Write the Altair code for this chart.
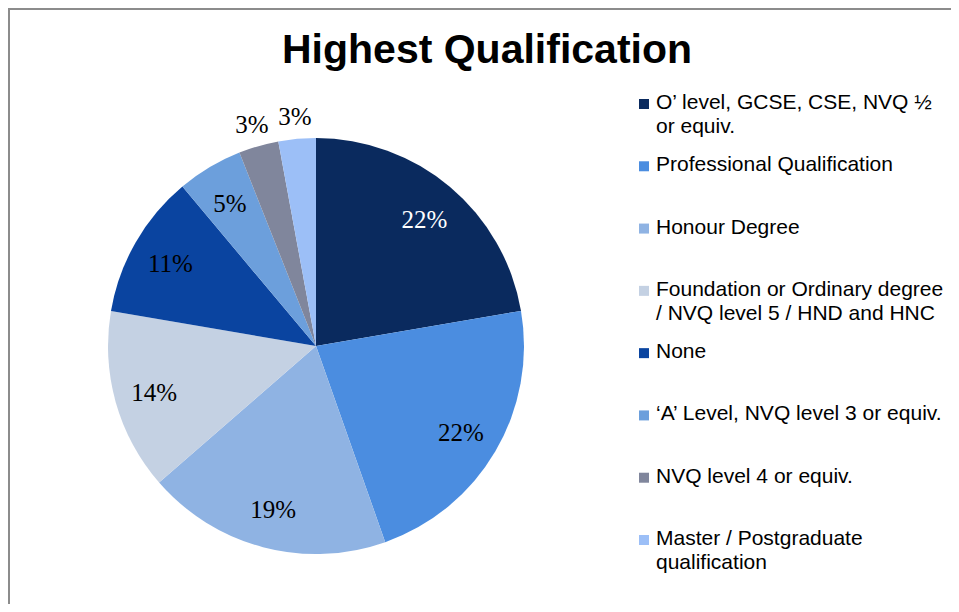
import altair as alt
import pandas as pd

categories = [
    "O' level, GCSE,  CSE,  NVQ ½ or equiv.",
    "Professional Qualification",
    "Honour Degree",
    "Foundation or Ordinary degree / NVQ level 5 / HND and HNC",
    "None",
    "‘A’ Level, NVQ level 3 or equiv.",
    "NVQ level 4 or equiv.",
    "Master / Postgraduate qualification",
]
legend_labels = [
    "O’ level, GCSE,  CSE,  NVQ ½\nor equiv.",
    "Professional Qualification",
    "Honour Degree",
    "Foundation or Ordinary degree\n/ NVQ level 5 / HND and HNC",
    "None",
    "‘A’ Level, NVQ level 3 or equiv.",
    "NVQ level 4 or equiv.",
    "Master / Postgraduate\nqualification",
]
values = [22.3, 22.3, 19.0, 14.1, 11.2, 5.1, 3.1, 2.9]
pct_labels = ["22%", "22%", "19%", "14%", "11%", "5%", "3%", "3%"]
colors = ["#0a2a5e", "#4b8de0", "#8fb3e3", "#c4d1e3", "#0a44a0", "#6c9fdc", "#80869c", "#9cbff7"]

df = pd.DataFrame({
    "idx": list(range(len(categories))),
    "cat": categories,
    "legend": legend_labels,
    "value": values,
    "pct": pct_labels,
})

W, H = 943, 596
CX, CY, R = 308, 338, 208

color_scale = alt.Scale(domain=categories, range=colors)

base = alt.Chart(df)

pie = base.mark_arc(outerRadius=R).encode(
    theta=alt.Theta("value:Q", stack=True),
    color=alt.Color("cat:N", scale=color_scale, legend=None),
    order=alt.Order("idx:Q"),
    x=alt.value(CX),
    y=alt.value(CY),
)


def pct_layer(expr, rad):
    return base.transform_calculate(
        lab=expr
    ).mark_text(font="Liberation Serif", fontSize=25, align="center", baseline="middle", dy=2).encode(
        theta=alt.Theta("value:Q", stack=True),
        radius=alt.value(rad),
        order=alt.Order("idx:Q"),
        text=alt.Text("lab:N"),
        color=alt.condition("datum.idx == 0", alt.value("white"), alt.value("black")),
        x=alt.value(CX),
        y=alt.value(CY),
    )


labels_in = pct_layer("datum.idx < 6 ? datum.pct : ''", 168)
labels_out = pct_layer("datum.idx >= 6 ? datum.pct : ''", 232)

leg_y = alt.Y("cat:N", sort=categories, scale=alt.Scale(type="point", range=[96, 532], padding=0), axis=None)

leg_sym = base.mark_square(size=100, opacity=1).encode(
    x=alt.value(636),
    y=leg_y,
    color=alt.Color("cat:N", scale=color_scale, legend=None),
)

leg_txt = base.mark_text(
    font="Liberation Sans", fontSize=21, align="left", baseline="top", dy=-12, lineBreak="\n", lineHeight=24,
    color="black",
).encode(
    x=alt.value(648),
    y=leg_y,
    text=alt.Text("legend:N"),
)

title = alt.Chart(pd.DataFrame({"t": ["Highest Qualification"]})).mark_text(
    font="Liberation Sans", fontSize=41, fontWeight="bold", align="center", baseline="middle", color="black"
).encode(
    x=alt.value(479),
    y=alt.value(43),
    text="t:N",
)

border_left = alt.Chart(pd.DataFrame({"a": [0]})).mark_rule(color="#8c8c8c", strokeWidth=2).encode(
    x=alt.value(1), y=alt.value(0), y2=alt.value(H)
)
border_top = alt.Chart(pd.DataFrame({"a": [0]})).mark_rule(color="#8c8c8c", strokeWidth=2).encode(
    x=alt.value(0), x2=alt.value(W), y=alt.value(1)
)

chart = alt.layer(border_left, border_top, pie, labels_in, labels_out, leg_sym, leg_txt, title).properties(
    width=W, height=H, autosize=alt.AutoSizeParams(type="none"), padding=0
).configure_view(stroke=None).resolve_scale(y="independent")

chart.save("out.html", embed_options={"renderer": "svg", "actions": False})
